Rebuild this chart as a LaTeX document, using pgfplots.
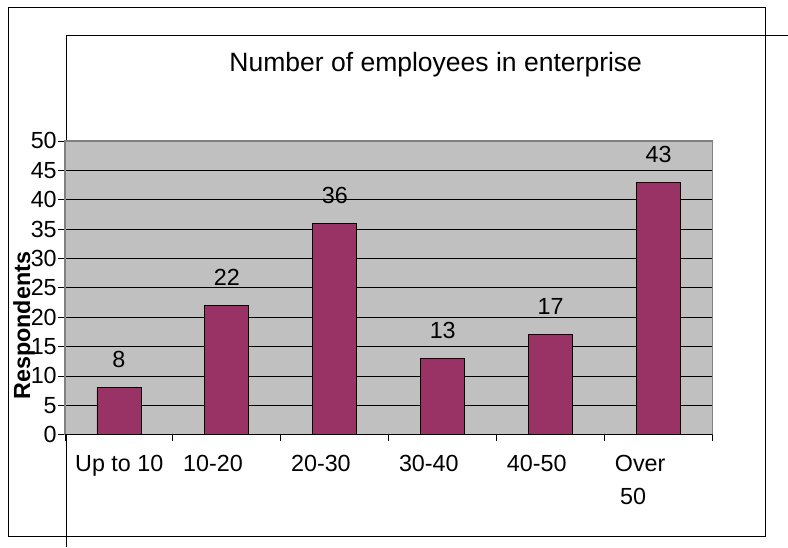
\documentclass[border=0pt]{standalone}
\usepackage{pgfplots}
\pgfplotsset{compat=1.18}
\usepackage{fontspec}
\setmainfont{Liberation Sans}
\definecolor{barc}{RGB}{153,51,102}
\definecolor{plotbg}{RGB}{192,192,192}
\definecolor{bord}{RGB}{128,128,128}
\begin{document}
\begin{tikzpicture}
\begin{scope}[x=0.75pt,y=-0.75pt]
\path (0,0) rectangle (788,547);
\draw[black, line width=0.75pt] (9,8) rectangle (766,537);
\draw[black, line width=0.75pt] (67,547) -- (67,36) -- (788,36);
\node[font=\fontsize{19.9}{24}\selectfont] at (436,65) {Number of employees in enterprise};
\node[rotate=90, font=\fontsize{17.5}{20}\selectfont\bfseries] at (24,326) {Respondents};
\end{scope}
\begin{axis}[
  at={(48.75pt,-326.25pt)}, anchor=south west,
  scale only axis, width=486pt, height=220.5pt,
  xmin=-0.5, xmax=5.5, ymin=0, ymax=50,
  /pgf/number format/assume math mode=true,
  axis background/.style={fill=plotbg},
  axis line style={bord, line width=1pt},
  ytick={0,5,...,50}, ymajorgrids, grid style={black, line width=0.6pt},
  xtick={-0.5,0.5,...,5.5},
  xticklabels={Up to 10,10-20,20-30,30-40,40-50,{Over\\\hspace*{4pt}50},{}},
  x tick label style={anchor=north west, xshift=7.5pt, inner sep=0pt, yshift=-10pt, align=left, font=\fontsize{17.5}{25}\selectfont},
  y tick label style={font=\fontsize{17.5}{20}\selectfont, inner sep=1pt},
  tick align=outside, major tick length=5pt, tick style={black, line width=0.6pt},
  xtick pos=lower, ytick pos=left,
  ybar, bar width=33pt,
  nodes near coords,
  every node near coord/.append style={font=\fontsize{17.5}{20}\selectfont, anchor=center, yshift=21pt, black},
]
\addplot[fill=barc, draw=black, line width=0.6pt] coordinates {(0,8) (1,22) (2,36) (3,13) (4,17) (5,43)};
\draw[black, line width=0.75pt] (rel axis cs:0,0) -- (rel axis cs:1,0);
\end{axis}
\end{tikzpicture}
\end{document}
